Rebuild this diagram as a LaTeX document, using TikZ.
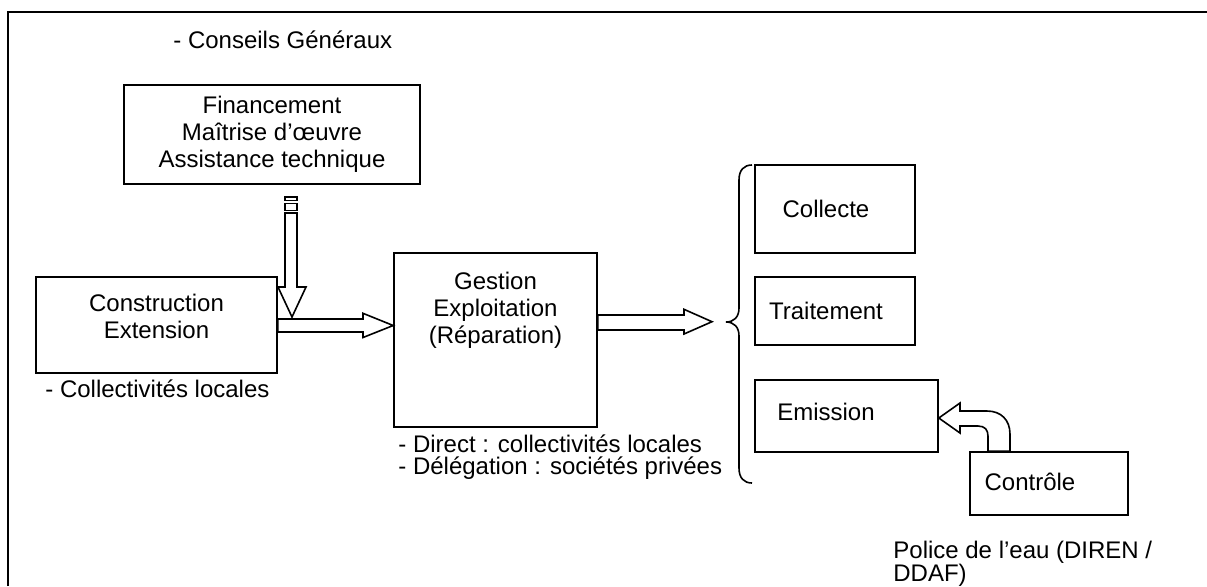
\documentclass[tikz,border=0pt]{standalone}
\usepackage{fontspec}
\setmainfont{Liberation Sans}
\begin{document}
\begin{tikzpicture}[x=0.5pt,y=-0.5pt,
  every node/.style={font=\fontsize{12}{13.5}\selectfont},
  box/.style={draw, line width=0.8pt, inner sep=0pt},
  lbl/.style={inner sep=0pt, anchor=west},
  blockarrow/.style={draw, fill=white, line width=0.8pt, line join=miter},
  frame/.style={line width=0.8pt},
  brace/.style={line width=0.8pt}]
\useasboundingbox (0,0) rectangle (1207,586);

% open frame: left and top sides only
\draw[frame] (8,586) -- (8,12) -- (1207,12);

% upper left: funding block
\node[lbl] (cg) at (173,40) {- Conseils Généraux};
\node[box, minimum width=148pt, minimum height=49.5pt, align=center] (fin) at (272,134.5)
  {Financement\\Maîtrise d’œuvre\\Assistance technique};

% construction block
\node[box, minimum width=120.5pt, minimum height=48pt] (constr) at (156.5,325) {};
\node[align=center, inner sep=0pt] (constrt) at (156.5,316) {Construction\\Extension};
\node[lbl] (cl) at (45,389) {- Collectivités locales};

% management block
\node[box, minimum width=101.5pt, minimum height=87pt] (gest) at (495.5,340) {};
\node[align=center, inner sep=0pt] (gestt) at (495.5,310) {Gestion\\Exploitation\\(Réparation)};
\node[lbl] (dir) at (398,444) {- Direct : collectivités locales};
\node[lbl] (deleg) at (398,468) {- Délégation : sociétés privées};

% the three functions
\node[box, minimum width=80pt, minimum height=44pt] (coll) at (835,209) {};
\node[inner sep=0pt] (collt) at (826,209) {Collecte};
\node[box, minimum width=80pt, minimum height=34pt] (trait) at (835,311) {};
\node[inner sep=0pt] (traitt) at (826,311) {Traitement};
\node[box, minimum width=91.5pt, minimum height=36pt] (emis) at (846.5,416) {};
\node[inner sep=0pt] (emist) at (826,412) {Emission};
\node[box, minimum width=79pt, minimum height=31.5pt] (ctrl) at (1049,483.5) {};
\node[inner sep=0pt] (ctrlt) at (1030,482) {Contrôle};
\node[lbl] (pol1) at (893,552) {Police de l’eau (DIREN /};
\node[lbl] (pol2) at (893,575) {DDAF)};

% brace grouping the functions
\draw[brace] (752,165) .. controls (744,165) and (739,170) .. (739,180)
  -- (739,308) .. controls (739,317) and (734,322) .. (726,322)
  .. controls (734,322) and (739,327) .. (739,336)
  -- (739,468) .. controls (739,478) and (744,483) .. (752,483);

% striped arrow from the funding block
\draw[blockarrow] (285,197) rectangle (297,200.5);
\draw[blockarrow] (285,203.5) rectangle (297,210.5);
\draw[blockarrow] (285,213) -- (297,213) -- (297,287) -- (306,287) -- (292,317)
  -- (278,287) -- (285,287) -- cycle;

% block arrow construction -> management
\draw[blockarrow] (constr.east |- 0,319) -- (363,319) -- (363,313.3) -- (gest.west |- 0,325.5)
  -- (363,337.5) -- (363,332) -- (constr.east |- 0,332) -- cycle;

% block arrow management -> functions
\draw[blockarrow] (gest.east |- 0,315) -- (684,315) -- (684,309.3) -- (712,321.7)
  -- (684,334) -- (684,330) -- (gest.east |- 0,330) -- cycle;

% curved arrow control -> emission
\draw[blockarrow] (emis.east |- 0,418) -- (960,403) -- (960,411) -- (987,411)
  .. controls (1001,411) and (1010,420) .. (1010,434) -- (1010,0 |- ctrl.north)
  -- (988,0 |- ctrl.north) -- (988,436) .. controls (988,430) and (985,426) .. (978,426)
  -- (960,426) -- (960,433) -- cycle;
\end{tikzpicture}
\end{document}
